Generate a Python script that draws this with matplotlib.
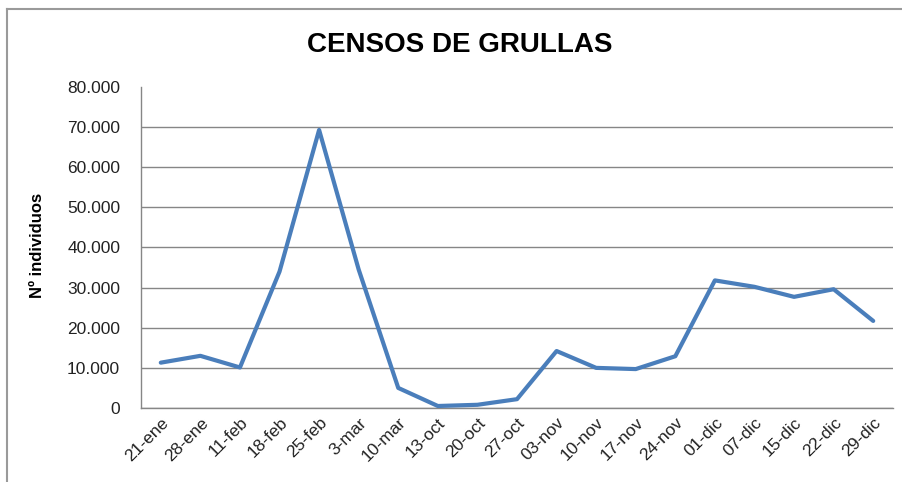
import matplotlib
matplotlib.use("Agg")
import matplotlib.pyplot as plt
import matplotlib.ticker as mticker

# census dates and counted cranes
fechas = ["21-ene", "28-ene", "11-feb", "18-feb", "25-feb", "3-mar", "10-mar",
          "13-oct", "20-oct", "27-oct", "03-nov", "10-nov", "17-nov", "24-nov",
          "01-dic", "07-dic", "15-dic", "22-dic", "29-dic"]
individuos = [11300, 13000, 10100, 34000, 69300, 34500, 5000,
              500, 800, 2200, 14200, 10000, 9700, 12900,
              31800, 30200, 27700, 29600, 21700]
yticks = [0, 10000, 20000, 30000, 40000, 50000, 60000, 70000, 80000]

GRID = "#868686"
LINE = "#4A7EBB"

plt.rcParams.update({
    "font.family": ["Liberation Sans", "DejaVu Sans"],
    "font.size": 12.5,
})

fig = plt.figure(figsize=(9.03, 4.82), dpi=100)
ax = fig.add_axes([141 / 903, 1 - 408 / 482, (893 - 141) / 903, (408 - 87) / 482])

x = list(range(len(fechas)))
ax.plot(x, individuos, color=LINE, lw=3.0, solid_joinstyle="round",
        solid_capstyle="round", zorder=3)

ax.set_xlim(-0.5, len(fechas) - 0.5)
ax.set_ylim(0, 80000)
ax.set_yticks(yticks)
ax.yaxis.set_major_formatter(mticker.FuncFormatter(
    lambda v, _: f"{v:,.0f}".replace(",", ".")))
ax.set_xticks(x)
ax.set_xticklabels(fechas, rotation=45, ha="right", rotation_mode="anchor")
ax.tick_params(axis="both", length=0, colors="#222222", labelsize=12.5)
ax.tick_params(axis="y", pad=15)
ax.tick_params(axis="x", pad=5)

ax.grid(True, axis="y", color=GRID, lw=1.0, zorder=1)
ax.yaxis.get_gridlines()[-1].set_visible(False)
for s in ["top", "right"]:
    ax.spines[s].set_visible(False)
for s in ["left", "bottom"]:
    ax.spines[s].set_color(GRID)
    ax.spines[s].set_linewidth(1.0)

ax.set_ylabel("Nº individuos", fontsize=12, fontweight="bold")
ax.yaxis.set_label_coords((45 - 141) / 752, (408 - 245) / 321)

fig.text(460 / 903, 1 - 45 / 482, "CENSOS DE GRULLAS", ha="center", va="center",
         fontsize=20, fontweight="bold")

# chart border (only top and left edges show)
fig.add_artist(plt.Line2D([7 / 903, 7 / 903], [0, 1 - 9 / 482], color="#9a9a9a",
                          lw=1.5, transform=fig.transFigure))
fig.add_artist(plt.Line2D([7 / 903, 1], [1 - 9 / 482, 1 - 9 / 482], color="#9a9a9a",
                          lw=1.5, transform=fig.transFigure))

fig.savefig("out.png", dpi=100)
